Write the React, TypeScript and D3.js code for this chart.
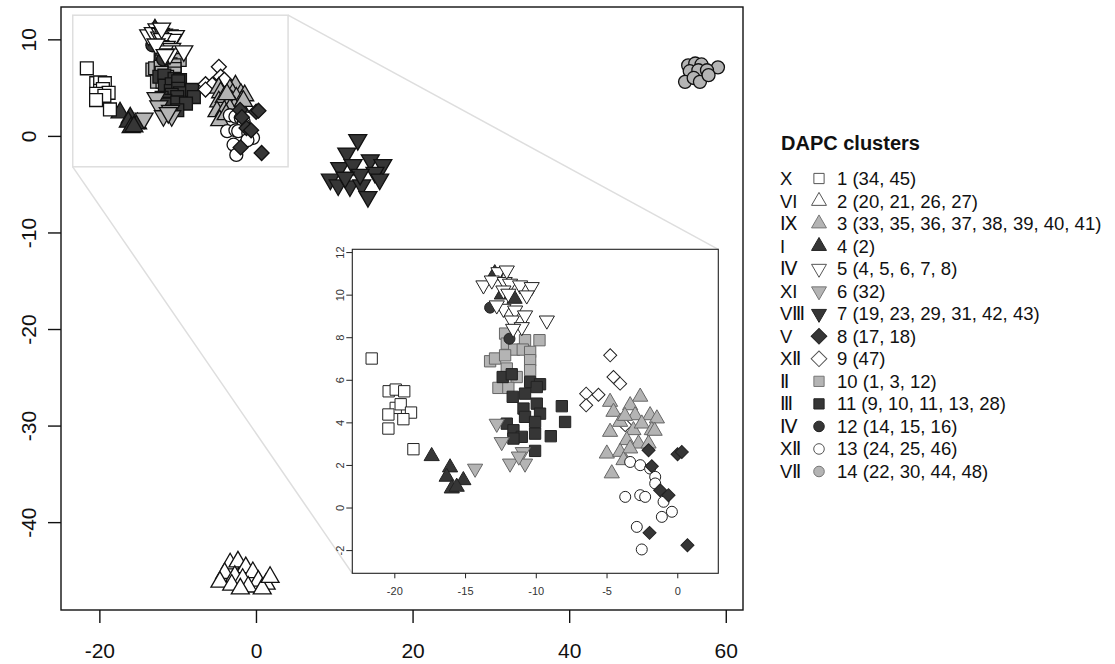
import React, { useRef, useEffect } from 'react';
import * as d3 from 'd3';

type Pt = [number, number];

// axis ticks
const xTicks = [-20, 0, 20, 40, 60];
const yTicks = [-40, -30, -20, -10, 0, 10];
const insetXTicks = [-20, -15, -10, -5, 0];
const insetYTicks = [-2, 0, 2, 4, 6, 8, 10, 12];

// zoomed window shown in the inset (data units)
const zoomWindow = { x0: -23.4, x1: 4.1, y0: -3.2, y1: 12.5 };

// DAPC coordinates per cluster
const cl1: Pt[] = [[-21.6, 7.0], [-20.4, 5.46], [-19.9, 5.54], [-19.3, 5.46], [-19.9, 4.68], [-19.55, 4.85], [-18.82, 4.46], [-20.42, 4.37], [-19.36, 4.15], [-20.42, 3.71], [-18.65, 2.74]];
const cl2: Pt[] = [[-3.3, -44.3], [-2.3, -44.1], [-1.3, -44.7], [-0.4, -45.2], [-4.0, -45.3], [-2.7, -45.6], [-1.7, -45.9], [0.3, -46.1], [1.3, -46.4], [-4.6, -46.2], [-3.1, -46.5], [-1.0, -46.7], [0.8, -46.9], [-2.0, -46.9], [1.8, -45.7]];
const cl3: Pt[] = [[-4.75, 4.96], [-2.62, 5.2], [-4.51, 4.49], [-3.33, 4.8], [-2.98, 4.33], [-1.92, 4.33], [-1.44, 4.18], [-4.75, 3.55], [-4.04, 4.02], [-3.1, 3.63], [-2.51, 3.94], [-1.8, 3.63], [-3.57, 3.16], [-2.74, 3.0], [-2.03, 3.0], [-4.98, 2.53], [-4.04, 2.61], [-3.33, 2.77], [-4.63, 1.6], [-3.8, 2.22], [-3.7, 4.3], [-1.6, 3.6]];
const cl4: Pt[] = [[-12.9, 11.0], [-12.4, 10.0], [-11.5, 9.8], [-17.36, 2.41], [-16.06, 1.88], [-16.3, 1.44], [-15.12, 1.28], [-15.94, 0.89], [-15.59, 0.97]];
const cl5: Pt[] = [[-12.64, 11.06], [-13.7, 10.44], [-13.11, 10.67], [-12.2, 10.6], [-11.82, 10.52], [-11.11, 10.44], [-10.29, 10.36], [-10.64, 9.97], [-12.29, 10.2], [-11.94, 10.05], [-12.29, 9.34], [-11.46, 9.26], [-10.76, 9.03], [-11.7, 8.79], [-10.99, 8.48], [-9.22, 8.79], [-12.76, 9.5], [-11.6, 8.4], [-12.05, 11.14]];
const cl6: Pt[] = [[-14.29, 1.83], [-12.76, 3.94], [-12.41, 3.08], [-11.82, 2.07], [-10.92, 2.61], [-10.76, 2.07], [-11.2, 2.4]];
const cl7: Pt[] = [[13.0, -0.4], [11.6, -1.8], [14.6, -2.5], [16.2, -3.0], [10.7, -3.3], [12.4, -3.0], [9.5, -4.5], [10.5, -5.1], [12.0, -5.2], [13.5, -5.1], [14.3, -6.3], [15.2, -3.8], [15.8, -4.5], [13.3, -4.0], [11.4, -4.3]];
const cl8: Pt[] = [[0.02, 2.5], [0.32, 2.61], [-2.03, 2.69], [-1.21, 0.81], [-0.62, 0.58], [-1.96, -1.19], [0.72, -1.77], [-1.8, 1.94]];
const cl9: Pt[] = [[-4.74, 7.15], [-4.51, 6.13], [-4.04, 5.82], [-6.44, 5.35], [-5.57, 5.3], [-6.44, 4.8], [-3.68, 3.87]];
const cl10: Pt[] = [[-12.17, 8.17], [-10.76, 7.86], [-9.74, 7.86], [-12.05, 7.7], [-11.53, 7.42], [-10.92, 7.42], [-10.4, 7.31], [-13.23, 6.87], [-12.88, 7.0], [-12.17, 7.15], [-10.4, 6.92], [-12.05, 6.53], [-10.4, 6.45], [-11.35, 6.13], [-12.64, 5.62], [-11.94, 5.62]];
const cl11: Pt[] = [[-12.34, 6.13], [-11.7, 6.26], [-10.4, 5.9], [-9.7, 5.79], [-11.63, 5.2], [-10.76, 5.35], [-9.93, 5.66], [-10.87, 4.65], [-9.93, 4.88], [-9.7, 4.41], [-10.76, 4.26], [-10.05, 4.02], [-12.05, 3.94], [-11.58, 3.63], [-10.99, 3.32], [-11.58, 3.24], [-10.05, 3.47], [-8.16, 4.76], [-7.93, 4.02], [-8.94, 3.35], [-10.05, 2.66]];
const cl12: Pt[] = [[-13.23, 9.39], [-11.86, 7.93], [-12.7, 11.0]];
const cl13: Pt[] = [[-3.33, 2.14], [-2.62, 1.99], [-1.92, 1.83], [-1.56, 1.44], [-1.56, 1.13], [-3.68, 0.5], [-2.62, 0.58], [-2.27, 0.5], [-0.97, 0.27], [-0.38, -0.2], [-1.09, -0.44], [-2.86, -0.91], [-2.51, -1.97]];
const cl14: Pt[] = [[55.2, 7.3], [56.1, 7.5], [56.9, 7.4], [59.0, 7.1], [55.4, 6.7], [56.5, 6.8], [57.6, 6.8], [54.8, 5.6], [55.9, 6.0], [56.7, 5.6], [57.8, 6.3]];

const clusterPoints = [cl1, cl2, cl3, cl4, cl5, cl6, cl7, cl8, cl9, cl10, cl11, cl12, cl13, cl14];
const romanLabels = ["X", "VI", "Ⅸ", "I", "Ⅳ", "XI", "VⅢ", "V", "XⅡ", "Ⅱ", "Ⅲ", "Ⅳ", "XⅡ", "VⅡ"];
const memberLabels = ["1 (34, 45)", "2 (20, 21, 26, 27)", "3 (33, 35, 36, 37, 38, 39, 40, 41)", "4 (2)", "5 (4, 5, 6, 7, 8)", "6 (32)", "7 (19, 23, 29, 31, 42, 43)", "8 (17, 18)", "9 (47)", "10 (1, 3, 12)", "11 (9, 10, 11, 13, 28)", "12 (14, 15, 16)", "13 (24, 25, 46)", "14 (22, 30, 44, 48)"];
const shapes = ["square", "triUp", "triUp", "triUp", "triDown", "triDown", "triDown", "diamond", "diamond", "square", "square", "circle", "circle", "circle"];
const tones = ["white", "white", "gray", "dark", "white", "gray", "dark", "dark", "white", "gray", "dark", "dark", "white", "gray"];
const drawOrder = [9, 10, 11, 3, 5, 4, 0, 8, 2, 12, 7, 6, 1, 13];

const fillOf: Record<string, string> = { white: "#ffffff", gray: "#b4b4b4", dark: "#363636" };

const symSizes: Record<string, Record<string, number>> = {
    main: { square: 165, circle: 133, tri: 140, diamond: 112 },
    inset: { square: 128, circle: 95, tri: 100, diamond: 85 },
    legend: { square: 105, circle: 88, tri: 97, diamond: 123 },
};

const symbolPath = (shape: string, kind: string) => {
    const s = symSizes[kind];
    if (shape === "circle") return d3.symbol().type(d3.symbolCircle).size(s.circle)()!;
    if (shape === "square") return d3.symbol().type(d3.symbolSquare).size(s.square)()!;
    if (shape === "diamond") return d3.symbol().type(d3.symbolSquare).size(s.diamond)()!;
    return d3.symbol().type(d3.symbolTriangle).size(s.tri)()!;
};
const rot = (shape: string) => shape === "triDown" ? " rotate(180)" : shape === "diamond" ? " rotate(45)" : "";
const fmt = (d: d3.NumberValue) => String(d);

const FONT = "'Liberation Sans', Arial, Helvetica, sans-serif";

const App: React.FC = () => {
    const svgRef = useRef<SVGSVGElement | null>(null);

    useEffect(() => {
        document.body.style.margin = "0";
        if (!svgRef.current) return;
        const svg = d3.select(svgRef.current);
        svg.selectAll("*").remove();

        const x = d3.scaleLinear().domain([-24.9, 62.2]).range([61, 743]);
        const y = d3.scaleLinear().domain([-49.1, 13.35]).range([610, 7]);
        const ix = d3.scaleLinear().domain([-22.97, 2.9]).range([352.3, 718.3]);
        const iy = d3.scaleLinear().domain([-3.09, 12.13]).range([573.3, 249.3]);

        svg.append("rect").attr("width", 1115).attr("height", 664).attr("fill", "#fff");

        // zoom window + connectors
        const zx0 = x(zoomWindow.x0), zx1 = x(zoomWindow.x1), zy0 = y(zoomWindow.y1), zy1 = y(zoomWindow.y0);
        const guides = svg.append("g").attr("stroke", "#dedede").attr("stroke-width", 1.5).attr("fill", "none");
        guides.append("rect").attr("x", zx0).attr("y", zy0).attr("width", zx1 - zx0).attr("height", zy1 - zy0);
        guides.append("line").attr("x1", zx1).attr("y1", zy0).attr("x2", ix.range()[1]).attr("y2", iy.range()[1]);
        guides.append("line").attr("x1", zx0).attr("y1", zy1).attr("x2", ix.range()[0]).attr("y2", iy.range()[0]);

        // main points
        const main = svg.append("g");
        drawOrder.forEach(ci => {
            main.append("g")
                .selectAll("path")
                .data(clusterPoints[ci])
                .enter().append("path")
                .attr("d", symbolPath(shapes[ci], "main"))
                .attr("transform", d => `translate(${x(d[0])},${y(d[1])})${rot(shapes[ci])}`)
                .attr("fill", fillOf[tones[ci]])
                .attr("stroke", "#111")
                .attr("stroke-width", 1.3);
        });

        // main box & axes
        svg.append("rect").attr("x", 61).attr("y", 7).attr("width", 743 - 61).attr("height", 610 - 7)
            .attr("fill", "none").attr("stroke", "#111").attr("stroke-width", 1.4);

        const xAxis = svg.append("g").attr("transform", "translate(0,610)")
            .call(d3.axisBottom(x).tickValues(xTicks).tickSize(13).tickPadding(20).tickFormat(fmt));
        xAxis.select(".domain").remove();
        xAxis.selectAll("line").attr("stroke", "#111").attr("stroke-width", 1.4);
        xAxis.selectAll("text").attr("fill", "#111").style("font-size", "21px").style("font-family", FONT);

        const yAxis = svg.append("g").attr("transform", "translate(61,0)")
            .call(d3.axisLeft(y).tickValues(yTicks).tickSize(13).tickFormat(fmt));
        yAxis.select(".domain").remove();
        yAxis.selectAll("line").attr("stroke", "#111").attr("stroke-width", 1.4);
        yAxis.selectAll("text")
            .attr("x", null).attr("dy", null)
            .attr("transform", "translate(-25,0) rotate(-90)")
            .attr("text-anchor", "middle")
            .attr("fill", "#111").style("font-size", "21px").style("font-family", FONT);

        // inset
        const [il, ir] = ix.range();
        const [ib, it] = iy.range();
        svg.append("clipPath").attr("id", "insetClip")
            .append("rect").attr("x", il).attr("y", it).attr("width", ir - il).attr("height", ib - it);
        svg.append("rect").attr("x", il).attr("y", it).attr("width", ir - il).attr("height", ib - it).attr("fill", "#fff");

        const inset = svg.append("g").attr("clip-path", "url(#insetClip)");
        drawOrder.forEach(ci => {
            inset.append("g")
                .selectAll("path")
                .data(clusterPoints[ci].filter(d => d[0] > -24 && d[0] < 4 && d[1] > -4 && d[1] < 13))
                .enter().append("path")
                .attr("d", symbolPath(shapes[ci], "inset"))
                .attr("transform", d => `translate(${ix(d[0])},${iy(d[1])})${rot(shapes[ci])}`)
                .attr("fill", fillOf[tones[ci]])
                .attr("stroke", tones[ci] === "gray" ? "#666" : "#222")
                .attr("stroke-width", 1);
        });
        svg.append("rect").attr("x", il).attr("y", it).attr("width", ir - il).attr("height", ib - it)
            .attr("fill", "none").attr("stroke", "#222").attr("stroke-width", 1.1);

        const ixAxis = svg.append("g").attr("transform", `translate(0,${ib})`)
            .call(d3.axisBottom(ix).tickValues(insetXTicks).tickSize(5).tickPadding(9).tickFormat(fmt));
        ixAxis.select(".domain").remove();
        ixAxis.selectAll("line").attr("stroke", "#222");
        ixAxis.selectAll("text").attr("fill", "#333").style("font-size", "11px").style("font-family", FONT);

        const iyAxis = svg.append("g").attr("transform", `translate(${il},0)`)
            .call(d3.axisLeft(iy).tickValues(insetYTicks).tickSize(6).tickFormat(fmt));
        iyAxis.select(".domain").remove();
        iyAxis.selectAll("line").attr("stroke", "#222");
        iyAxis.selectAll("text")
            .attr("x", null).attr("dy", null)
            .attr("transform", "translate(-8,0) rotate(-90)")
            .attr("text-anchor", "middle")
            .attr("fill", "#333").style("font-size", "11px").style("font-family", FONT);

        // legend
        const legend = svg.append("g").attr("transform", "translate(781,0)").style("font-family", FONT);
        legend.append("text").attr("x", 0).attr("y", 149.5)
            .attr("font-weight", "bold").style("font-size", "20px").attr("fill", "#111")
            .text("DAPC clusters");

        const rowY = d3.scaleLinear().domain([0, 13]).range([178.5, 471.5]);
        const rows = legend.selectAll(".legend-item")
            .data(d3.range(14))
            .enter().append("g")
            .attr("class", "legend-item")
            .attr("transform", i => `translate(0,${rowY(i)})`);

        rows.append("text")
            .attr("x", -1).attr("y", 6.5)
            .style("font-size", "18.5px").attr("fill", "#111")
            .text(i => romanLabels[i]);

        rows.append("path")
            .attr("d", i => symbolPath(shapes[i], "legend"))
            .attr("transform", i => `translate(38,0)${rot(shapes[i])}`)
            .attr("fill", i => fillOf[tones[i]])
            .attr("stroke", i => tones[i] === "gray" ? "#777" : tones[i] === "white" ? "#555" : "#222")
            .attr("stroke-width", 1);

        rows.append("text")
            .attr("x", 56).attr("y", 6.5)
            .style("font-size", "18.5px").attr("fill", "#111")
            .text(i => memberLabels[i]);
    }, []);

    return (
        <div style={{ width: 1115, height: 664 }}>
            <svg ref={svgRef} width={1115} height={664} style={{ display: 'block' }}></svg>
        </div>
    );
};

export default App;
